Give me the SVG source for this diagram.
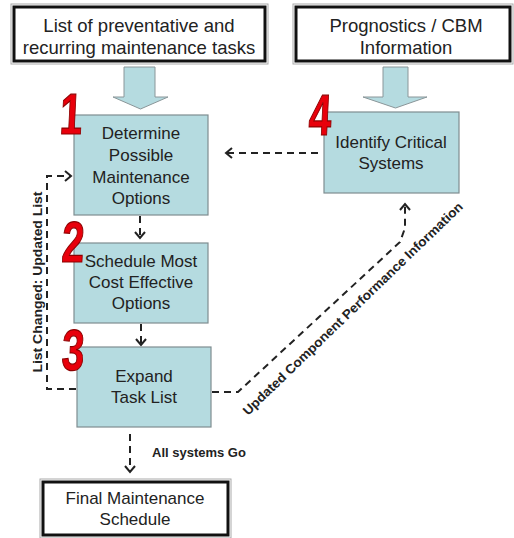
<svg xmlns="http://www.w3.org/2000/svg" width="514" height="538" viewBox="0 0 514 538">
<style>
.box{fill:#b5dbe0;stroke:#7f8d90;stroke-width:1.2}
.tb{fill:#fff;stroke:#111;stroke-width:3}
.tbo{fill:none;stroke:#aaa;stroke-width:1}
.blk{fill:#b5dbe0;stroke:#8a9699;stroke-width:1}
.t{font-family:"Liberation Sans",Arial,sans-serif;font-size:17px;fill:#222;text-anchor:middle}
.tt{font-family:"Liberation Sans",Arial,sans-serif;font-size:18.5px;fill:#222;text-anchor:middle}
.lbl{font-family:"Liberation Sans",Arial,sans-serif;font-size:13px;font-weight:bold;fill:#222}
.num{font-family:"Liberation Sans",Arial,sans-serif;font-size:58px;font-weight:bold;fill:#e8000b;stroke:#8c0000;stroke-width:1.2}
.c{fill:none;stroke:#222;stroke-width:2;stroke-dasharray:7 5}
</style>
<defs>
<marker id="ah" markerUnits="userSpaceOnUse" viewBox="-8 -6 10 12" refX="0" refY="0" markerWidth="10" markerHeight="12" orient="auto">
<path d="M-6,-5 L0,0 L-6,5" fill="none" stroke="#222" stroke-width="2"/>
</marker>
</defs>

<g id="top-left">
<rect class="tbo" x="11" y="4" width="257" height="60"/>
<rect class="tb" x="14" y="7" width="251" height="54"/>
<text class="tt" x="139" y="32">List of preventative and</text>
<text class="tt" x="139" y="54">recurring maintenance tasks</text>
</g>
<g id="top-right">
<rect class="tbo" x="293" y="4" width="220" height="60"/>
<rect class="tb" x="296" y="7" width="214" height="54"/>
<text class="tt" x="406" y="32">Prognostics / CBM</text>
<text class="tt" x="406" y="54">Information</text>
</g>

<g id="arrow-left">
<path class="blk" d="M124,67 H155 V97 H168 L140.5,109 L113,97 H124 Z"/>
</g>
<g id="arrow-right">
<path class="blk" d="M383,67 H408 V97 H427 L395.5,108 L363,97 H383 Z"/>
</g>

<g id="connectors">
<path class="c" d="M140,216 V238" marker-end="url(#ah)"/>
<path class="c" d="M141,324 V345" marker-end="url(#ah)"/>
<path class="c" d="M130,434 V472" marker-end="url(#ah)"/>
<path class="c" d="M318,153 H226" marker-end="url(#ah)"/>
<path class="c" d="M76,389 H47 V176 H71" marker-end="url(#ah)"/>
<path class="c" d="M212,392 H238 L400,242 L405,228 V204" marker-end="url(#ah)"/>
<text class="lbl" x="152" y="457">All systems Go</text>
<text class="lbl" transform="translate(42,282) rotate(-90)" text-anchor="middle" font-size="13.5" textLength="181" lengthAdjust="spacingAndGlyphs">List Changed: Updated List</text>
<text class="lbl" transform="translate(248,416) rotate(-44)" font-size="13.5" textLength="300" lengthAdjust="spacingAndGlyphs">Updated Component Performance Information</text>
</g>

<g id="step1">
<rect class="box" x="74" y="115" width="134" height="100"/>
<text class="t" x="141" y="139">Determine</text>
<text class="t" x="141" y="161">Possible</text>
<text class="t" x="141" y="183">Maintenance</text>
<text class="t" x="141" y="204">Options</text>
<text class="num" transform="translate(59,134) scale(0.7,1) skewX(-4)">1</text>
</g>
<g id="step2">
<rect class="box" x="74" y="243" width="134" height="80"/>
<text class="t" x="141" y="267">Schedule Most</text>
<text class="t" x="141" y="288">Cost Effective</text>
<text class="t" x="141" y="309">Options</text>
<text class="num" transform="translate(61,262) scale(0.7,1) skewX(-4)">2</text>
</g>
<g id="step3">
<rect class="box" x="77" y="347" width="134" height="80"/>
<text class="t" x="144" y="382">Expand</text>
<text class="t" x="144" y="403">Task List</text>
<text class="num" transform="translate(61,370) scale(0.7,1) skewX(-4)">3</text>
</g>
<g id="step4">
<rect class="box" x="324" y="112" width="135" height="81"/>
<text class="t" x="391" y="148">Identify Critical</text>
<text class="t" x="391" y="169">Systems</text>
<text class="num" transform="translate(308,135) scale(0.7,1) skewX(-4)">4</text>
</g>
<g id="final">
<rect class="tbo" x="40" y="479" width="191" height="59"/>
<rect class="tb" x="43" y="482" width="185" height="53"/>
<text class="t" x="135" y="504">Final Maintenance</text>
<text class="t" x="135" y="525">Schedule</text>
</g>
</svg>
